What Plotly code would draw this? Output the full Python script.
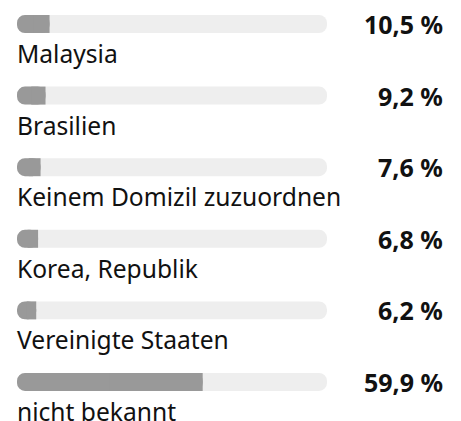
import plotly.graph_objects as go

# Share of each origin (percent)
categories = ["Malaysia", "Brasilien", "Keinem Domizil zuzuordnen",
              "Korea, Republik", "Vereinigte Staaten", "nicht bekannt"]
values = [10.5, 9.2, 7.6, 6.8, 6.2, 59.9]
value_labels = ["10,5 %", "9,2 %", "7,6 %", "6,8 %", "6,2 %", "59,9 %"]

full = 100
track_color = "#eeeeee"
fill_color = "#999999"
text_color = "#111111"

rows = list(range(len(categories)))
bar_w = 0.251
radius = 9

fig = go.Figure()

# Background track, drawn from a non-zero base so both ends are rounded
fig.add_trace(go.Bar(y=rows, x=[-full] * len(rows), base=[full] * len(rows),
                     orientation="h", marker=dict(color=track_color, cornerradius=radius,
                                                  line=dict(width=0)),
                     width=bar_w, hoverinfo="skip"))
# Value fill: rounded piece from zero to the value ...
fig.add_trace(go.Bar(y=rows, x=[-v for v in values], base=values,
                     orientation="h", marker=dict(color=fill_color, cornerradius=radius,
                                                  line=dict(width=0)),
                     width=bar_w, hoverinfo="skip"))
# ... with a square-cornered piece giving it a flat right end
fig.add_trace(go.Bar(y=rows, x=[v / 2 for v in values], base=[v / 2 for v in values],
                     orientation="h", marker=dict(color=fill_color, cornerradius=0,
                                                  line=dict(width=0)),
                     width=bar_w, hoverinfo="skip"))

for i, (cat, lab) in enumerate(zip(categories, value_labels)):
    fig.add_annotation(x=0, y=i, xref="x", yref="y", text=cat, showarrow=False,
                       xanchor="left", yanchor="middle", yshift=-29.5, xshift=-2,
                       font=dict(family="Noto Sans", size=24.6, color=text_color))
    fig.add_annotation(x=(443 - 17) / 310, y=i, xref="paper", yref="y", text="<b>" + lab + "</b>",
                       showarrow=False, xanchor="right", yanchor="middle", xshift=2,
                       font=dict(family="Noto Sans", size=25, color=text_color))

fig.update_layout(
    width=461, height=421,
    margin=dict(l=17, r=134, t=0, b=0),
    paper_bgcolor="white", plot_bgcolor="white",
    barmode="overlay", showlegend=False,
    xaxis=dict(range=[0, full], visible=False, fixedrange=True),
    yaxis=dict(range=[5.545, -0.335], visible=False, fixedrange=True),
)

fig.write_html("out.html")
